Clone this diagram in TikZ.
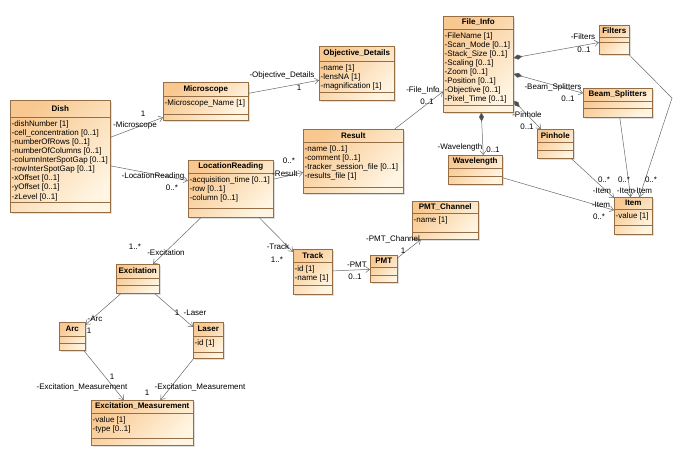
\documentclass[tikz,border=0pt]{standalone}
\usepackage{fontspec}
\setmainfont{Liberation Sans}
\usetikzlibrary{arrows.meta,shadows}

\definecolor{clstop}{RGB}{248,200,144}
\definecolor{clsbot}{RGB}{255,245,226}
\definecolor{clsedge}{RGB}{150,110,70}
\definecolor{linkgray}{RGB}{105,105,105}

\tikzset{
  umlbox/.style={anchor=north west, draw=clsedge, line width=0.5pt, top color=clstop, bottom color=clsbot, shading angle=45, inner sep=0pt, drop shadow={shadow xshift=1.5pt, shadow yshift=-1.5pt, opacity=0.25}},
  umldiv/.style={draw=clsedge, line width=0.4pt},
  umltitle/.style={font=\fontsize{8}{9}\selectfont\bfseries, inner sep=0pt},
  umlattrs/.style={anchor=north west, align=left, font=\fontsize{8}{9.1}\selectfont, inner xsep=1.5pt, inner ysep=3.2pt},
  role/.style={font=\fontsize{8}{9}\selectfont, inner sep=0pt},
  assoc/.style={draw=linkgray, line width=0.5pt, -{Straight Barb[length=4pt,width=6pt]}},
  comp/.style={assoc, {Diamond[length=9pt,width=5pt,fill=black!70]}-{Straight Barb[length=4pt,width=6pt]}},
}

% class box: name, top left, width, height, title line, attribute line, title, attributes
\newcommand{\umlclass}[8]{%
  \node[umlbox, minimum width=#3pt, minimum height=#4pt] (#1) at #2 {};
  \draw[umldiv] ([yshift=-#5pt]#1.north west) -- ([yshift=-#5pt]#1.north east);
  \draw[umldiv] ([yshift=-#6pt]#1.north west) -- ([yshift=-#6pt]#1.north east);
  \node[umltitle] (#1-title) at ([yshift={-#5pt/2}]#1.north) {#7};
  \if\relax\detokenize{#8}\relax\else
    \node[umlattrs] (#1-attrs) at ([yshift=-#5pt]#1.north west) {#8};
  \fi
}

\begin{document}
\begin{tikzpicture}[x=1pt, y=-1pt]
  \useasboundingbox[fill=white] (0,0) rectangle (685,459);

  % classes
  \umlclass{dish}{(10,100)}{100}{112}{17}{102}{Dish}{-dishNumber [1]\\-cell\_concentration [0..1]\\-numberOfRows [0..1]\\-numberOfColumns [0..1]\\-columnInterSpotGap [0..1]\\-rowInterSpotGap [0..1]\\-xOffset [0..1]\\-yOffset [0..1]\\-zLevel [0..1]}
  \umlclass{microscope}{(163,82)}{85}{38}{14}{32}{Microscope}{-Microscope\_Name [1]}
  \umlclass{objdetails}{(319,46)}{75}{54}{15}{46}{Objective\_Details}{-name [1]\\-lensNA [1]\\-magnification [1]}
  \umlclass{fileinfo}{(443,16)}{70}{96}{13}{89}{File\_Info}{-FileName [1]\\-Scan\_Mode [0..1]\\-Stack\_Size [0..1]\\-Scaling [0..1]\\-Zoom [0..1]\\-Position [0..1]\\-Objective [0..1]\\-Pixel\_Time [0..1]}
  \umlclass{filters}{(599,25)}{30}{29}{12}{17}{Filters}{}
  \umlclass{beamsplit}{(583,88)}{69}{29}{13}{20}{Beam\_Splitters}{}
  \umlclass{pinhole}{(537,129)}{36}{29}{13}{21}{Pinhole}{}
  \umlclass{wavelength}{(448,155)}{54}{29}{13}{21}{Wavelength}{}
  \umlclass{item}{(614,197)}{38}{37}{12}{28}{Item}{-value [1]}
  \umlclass{result}{(303,129)}{100}{64}{13}{58}{Result}{-name [0..1]\\-comment [0..1]\\-tracker\_session\_file [0..1]\\-results\_file [1]}
  \umlclass{locread}{(188,160)}{85}{57}{13}{48}{LocationReading}{-acquisition\_time [0..1]\\-row [0..1]\\-column [0..1]}
  \umlclass{track}{(293,249)}{39}{45}{13}{36}{Track}{-id [1]\\-name [1]}
  \umlclass{pmt}{(370,255)}{27}{27}{12}{20}{PMT}{}
  \umlclass{pmtchannel}{(412,201)}{66}{38}{12}{31}{PMT\_Channel}{-name [1]}
  \umlclass{excitation}{(116,264)}{43}{29}{14}{21}{Excitation}{}
  \umlclass{arc}{(59,322)}{26}{28}{14}{21}{Arc}{}
  \umlclass{laser}{(193,322)}{30}{36}{14}{30}{Laser}{-id [1]}
  \umlclass{excmeas}{(91,400)}{102}{45}{13}{38}{Excitation\_Measurement}{-value [1]\\-type [0..1]}

  \coordinate (fbend) at (672,98);

  % associations
  \draw[assoc] (dish) -- (microscope);
  \draw[assoc] (dish) -- (locread);
  \draw[assoc] (microscope) -- (objdetails);
  \draw[assoc] (locread) -- (result);
  \draw[assoc] (result) -- (fileinfo);
  \draw[comp] (fileinfo) -- (filters);
  \draw[comp] (fileinfo) -- (beamsplit);
  \draw[comp] (fileinfo) -- (pinhole);
  \draw[comp] ([xshift=3pt]fileinfo.south) -- ([xshift=8pt]wavelength.north);
  \draw[assoc] (filters) -- (fbend) -- (item);
  \draw[assoc] (beamsplit) -- (item);
  \draw[assoc] (pinhole) -- (item);
  \draw[assoc] (wavelength) -- (item);
  \draw[assoc] (locread) -- (excitation);
  \draw[assoc] (locread) -- (track);
  \draw[assoc] (track) -- (pmt);
  \draw[assoc] (pmt) -- (pmtchannel);
  \draw[assoc] (excitation) -- (arc);
  \draw[assoc] (excitation) -- (laser);
  \draw[assoc] (arc) -- (excmeas);
  \draw[assoc] (laser) -- (excmeas);

  % role names and multiplicities
  \node[role] (dishmic-m) at (143,114) {1};
  \node[role] (dishmic-r) at (135,125) {-Microscope};
  \node[role] (dishloc-r) at (153,176) {-LocationReading};
  \node[role] (dishloc-m) at (172,188) {0..*};
  \node[role] (micobj-r) at (282,75) {-Objective\_Details};
  \node[role] (micobj-m) at (299,88) {1};
  \node[role] (locres-m) at (289,161) {0..*};
  \node[role] (locres-r) at (285,174) {-Result};
  \node[role] (resfile-r) at (423,90) {-File\_Info};
  \node[role] (resfile-m) at (427,102) {0..1};
  \node[role] (filfilt-r) at (583,37) {-Filters};
  \node[role] (filfilt-m) at (584,50) {0..1};
  \node[role] (filbeam-r) at (553,87) {-Beam\_Splitters};
  \node[role] (filbeam-m) at (568,99) {0..1};
  \node[role] (filpin-r) at (527,115) {-Pinhole};
  \node[role] (filpin-m) at (527,127) {0..1};
  \node[role] (filwave-r) at (460,147) {-Wavelength};
  \node[role] (filwave-m) at (493,150) {0..1};
  \node[role] (pinitem-m) at (604,180) {0..*};
  \node[role] (pinitem-r) at (602,191) {-Item};
  \node[role] (beamitem-m) at (624,180) {0..*};
  \node[role] (beamitem-r) at (626,191) {-Item};
  \node[role] (filtitem-m) at (651,180) {0..*};
  \node[role] (filtitem-r) at (643,191) {-Item};
  \node[role] (waveitem-r) at (601,205) {-Item};
  \node[role] (waveitem-m) at (599,217) {0..*};
  \node[role] (locexc-m) at (135,247) {1..*};
  \node[role] (locexc-r) at (166,253) {-Excitation};
  \node[role] (loctrack-r) at (278,247) {-Track};
  \node[role] (loctrack-m) at (277,260) {1..*};
  \node[role] (trackpmt-r) at (357,265) {-PMT};
  \node[role] (trackpmt-m) at (355,277) {0..1};
  \node[role] (pmtch-r) at (393,239) {-PMT\_Channel};
  \node[role] (pmtch-m) at (403,251) {1};
  \node[role] (excarc-r) at (95,319) {-Arc};
  \node[role] (excarc-m) at (89,331) {1};
  \node[role] (exclaser-m) at (177,313) {1};
  \node[role] (exclaser-r) at (195,313) {-Laser};
  \node[role] (arcmeas-m) at (112,377) {1};
  \node[role] (arcmeas-r) at (82,387) {-Excitation\_Measurement};
  \node[role] (lasermeas-r) at (200,387) {-Excitation\_Measurement};
  \node[role] (lasermeas-m) at (147,393) {1};
\end{tikzpicture}
\end{document}
